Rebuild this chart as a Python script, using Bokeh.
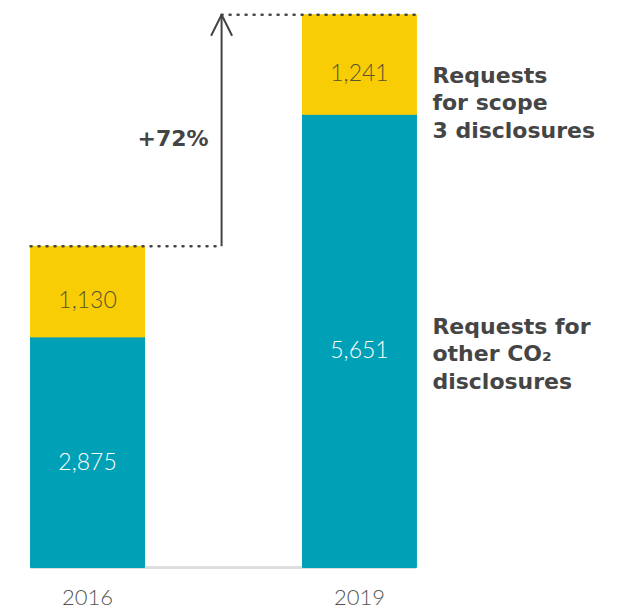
from bokeh.plotting import figure
from bokeh.models import Range1d, Arrow, OpenHead, ColumnDataSource
from bokeh.core.properties import value
from bokeh.embed import file_html
from bokeh.resources import INLINE

# Disclosure requests per year
years = ["2016", "2019"]
other_co2 = [2875, 5651]
scope3 = [1130, 1241]
series_labels = ["Requests\nfor scope\n3 disclosures", "Requests for\nother CO\u2082\ndisclosures"]

xs = list(range(len(years)))
totals = [a + b for a, b in zip(other_co2, scope3)]
growth = round((totals[-1] / totals[0] - 1) * 100)

TEAL = "#00A0B6"
YELLOW = "#F9CD05"
DARK = "#444444"
BAR_W = 0.419

src = ColumnDataSource(dict(
    x=xs,
    year=years,
    other=other_co2,
    scope=scope3,
    other_lbl=[f"{v:,}" for v in other_co2],
    scope_lbl=[f"{v:,}" for v in scope3],
    other_mid=[v / 2 for v in other_co2],
    scope_mid=[o + s / 2 for o, s in zip(other_co2, scope3)],
    base=[0] * len(xs),
))

p = figure(width=629, height=609,
           x_range=Range1d(-0.32, 1.993), y_range=Range1d(-524, 7070),
           output_backend="svg", toolbar_location=None, min_border=0,
           x_axis_type=None, y_axis_type=None, outline_line_color=None,
           background_fill_color="white", border_fill_color="white")
p.grid.visible = False

# baseline under the bars
p.segment(x0=xs[0] - BAR_W / 2, y0=0, x1=xs[-1] + BAR_W / 2, y1=0,
          line_color="#dedede", line_width=3)

p.vbar_stack(["other", "scope"], x="x", width=BAR_W, color=[TEAL, YELLOW], source=src)

light = value("Lato Light")
bold = value("DejaVu Sans")

p.text(x="x", y="other_mid", text="other_lbl", source=src, text_color="white",
       text_align="center", text_baseline="middle", y_offset=9,
       text_font=light, text_font_size="23px")
p.text(x="x", y="scope_mid", text="scope_lbl", source=src, text_color="#5a5431",
       text_align="center", text_baseline="middle", y_offset=8,
       text_font=light, text_font_size="23px")
p.text(x="x", y="base", text="year", source=src, text_color="#555555",
       text_align="center", text_baseline="middle", y_offset=30,
       text_font=light, text_font_size="22px")

# growth arrow between the two totals
ax = (xs[0] + BAR_W / 2 + xs[1] - BAR_W / 2) / 2 - 0.007
p.segment(x0=xs[0] - BAR_W / 2, y0=totals[0], x1=ax, y1=totals[0],
          line_color=DARK, line_width=2.5, line_dash="1 7", line_cap="round")
p.segment(x0=ax, y0=totals[1], x1=xs[1] + BAR_W / 2, y1=totals[1],
          line_color=DARK, line_width=2.5, line_dash="1 7", line_cap="round")
p.add_layout(Arrow(x_start=ax, y_start=totals[0], x_end=ax, y_end=totals[1],
                   line_color=DARK, line_width=2,
                   end=OpenHead(size=21, line_color=DARK, line_width=2)))
p.text(x=[ax], y=[(totals[0] + totals[1]) / 2], text=[f"+{growth}%"],
       text_color=DARK, text_align="right", text_baseline="middle",
       x_offset=-13, y_offset=8, text_font=bold, text_font_style="bold",
       text_font_size="22px")

# series labels beside the latest bar
right = xs[-1] + BAR_W / 2
p.text(x=[right], y=[src.data["scope_mid"][-1]], text=[series_labels[0]],
       text_color="#454545", text_align="left", text_baseline="middle",
       x_offset=16, y_offset=38, text_font=bold, text_font_style="bold",
       text_font_size="22px", text_line_height=1.1)
p.text(x=[right], y=[src.data["other_mid"][-1]], text=[series_labels[1]],
       text_color="#454545", text_align="left", text_baseline="middle",
       x_offset=16, y_offset=13, text_font=bold, text_font_style="bold",
       text_font_size="22px", text_line_height=1.1)

open("out.html", "w").write(file_html(p, INLINE))
